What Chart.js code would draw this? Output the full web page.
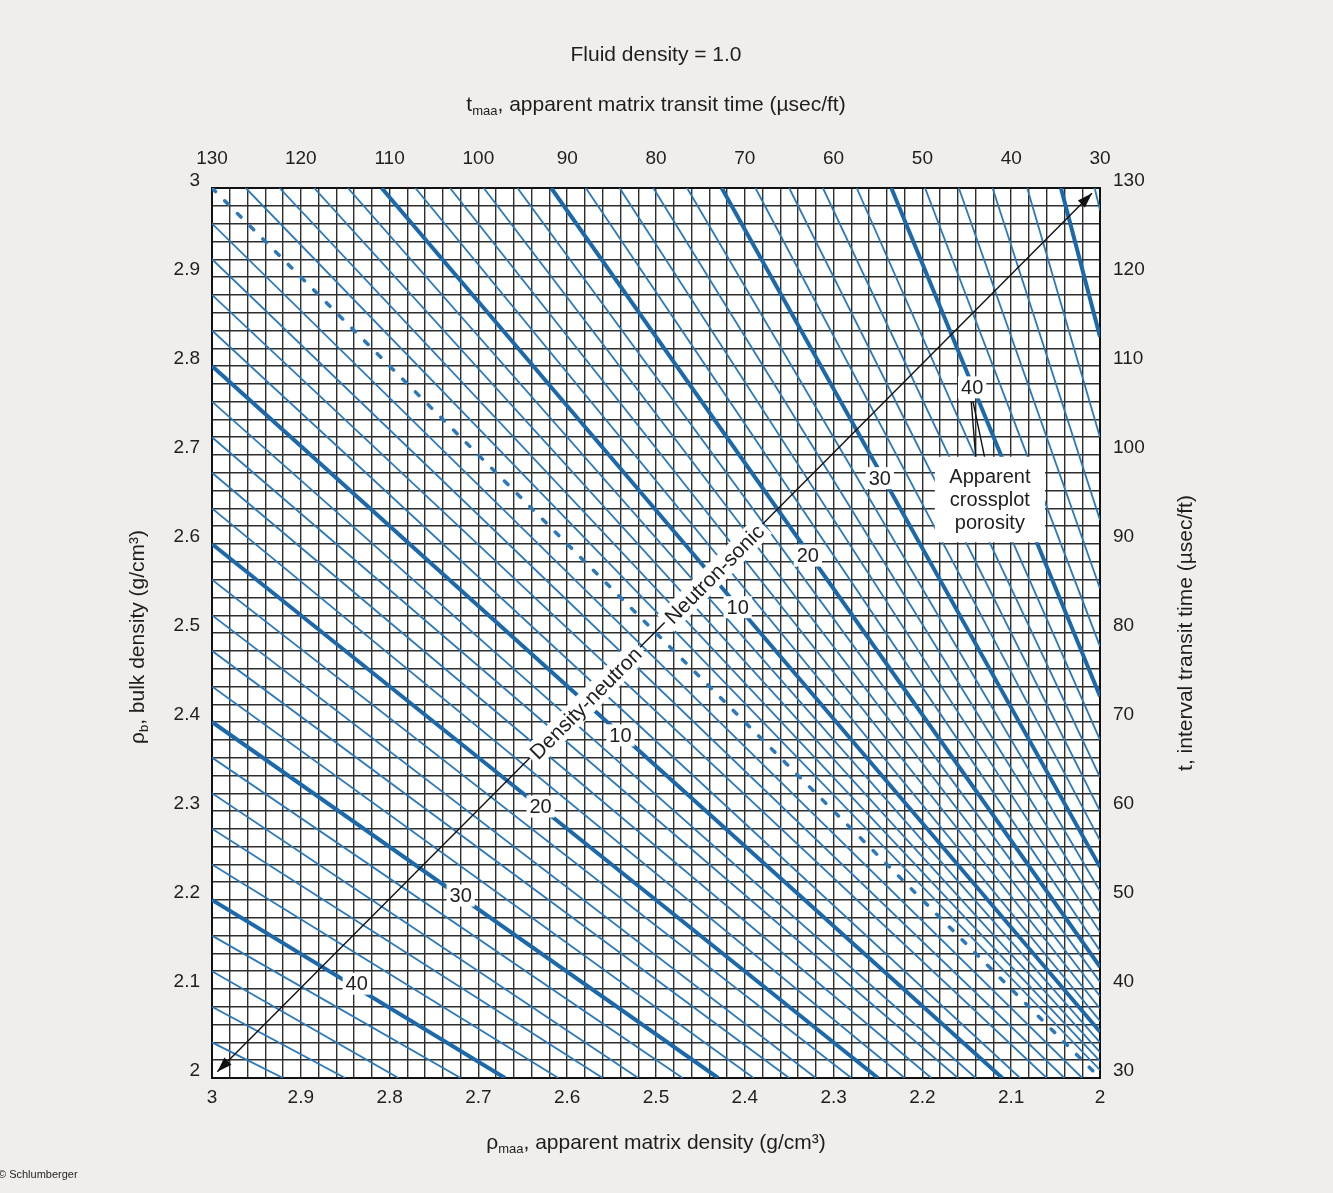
<!DOCTYPE html>
<html>
<head>
<meta charset="utf-8">
<title>Apparent matrix parameters crossplot</title>
<script src="https://cdn.jsdelivr.net/npm/chart.js@4.4.1/dist/chart.umd.min.js"></script>
<style>
  html, body { margin: 0; padding: 0; background: #efeeec; }
  #wrap { width: 1333px; height: 1193px; position: relative; }
</style>
</head>
<body>
<div id="wrap"><canvas id="crossplot" width="1333" height="1193"></canvas></div>
<script>
// tick labels
const rhoTickLabels = [2, 2.1, 2.2, 2.3, 2.4, 2.5, 2.6, 2.7, 2.8, 2.9, 3];
const transitTickLabels = [30, 40, 50, 60, 70, 80, 90, 100, 110, 120, 130];

// density-neutron porosity lines (p.u.):
// rho_b where each line leaves rho_maa = 3, and rho_maa where it reaches rho_b = 2
const dnPorosity = [2, 4, 6, 8, 10, 12, 14, 16, 18, 20, 22, 24, 26, 28, 30, 32, 34, 36, 38, 40, 42, 44, 46, 48];
const dnRhobAtLeft = [2.96, 2.92, 2.88, 2.84, 2.80, 2.76, 2.72, 2.68, 2.64, 2.60, 2.56, 2.52,
  2.48, 2.44, 2.40, 2.36, 2.32, 2.28, 2.24, 2.20, 2.16, 2.12, 2.08, 2.04];
const dnRhomaaAtBottom = [2.02, 2.04, 2.06, 2.09, 2.11, 2.14, 2.16, 2.19, 2.22, 2.25, 2.28, 2.32,
  2.35, 2.39, 2.43, 2.47, 2.52, 2.56, 2.61, 2.67, 2.72, 2.79, 2.85, 2.92];

// neutron-sonic porosity lines (p.u.):
// t_maa where each line leaves t = 130, and t where it reaches t_maa = 30
const nsPorosity = [2, 4, 6, 8, 10, 12, 14, 16, 18, 20, 22, 24, 26, 28, 30, 32, 34, 36, 38, 40, 42, 44, 46, 48, 50, 52];
const nsTmaaAtTop = [126.2, 122.4, 118.5, 114.7, 110.9, 107.1, 103.2, 99.4, 95.6, 91.8, 87.9, 84.1, 80.3,
  76.5, 72.6, 68.8, 65.0, 61.2, 57.4, 53.5, 49.7, 45.9, 42.1, 38.2, 34.4, 30.6];
const nsTAtRight = [30.9, 31.9, 32.9, 34.0, 35.2, 36.4, 37.8, 39.2, 40.8, 42.5, 44.3, 46.4, 48.6,
  51.0, 53.7, 56.7, 60.0, 63.8, 68.0, 72.9, 78.5, 85.0, 92.7, 102.0, 113.3, 127.5];

// zero porosity line and the diagonal arrow
const zeroRhomaa = [3, 2];
const zeroRhob = [3, 2];
const diagRhomaa = [2.994, 2.009];
const diagRhob = [2.007, 2.994];

// porosity labels
const dnLabels = ['10', '20', '30', '40'];
const dnLabelRhomaa = [2.54, 2.63, 2.72, 2.837];
const dnLabelRhob = [2.385, 2.305, 2.205, 2.106];
const nsLabels = ['10', '20', '30', '40'];
const nsLabelTmaa = [70.8, 62.9, 54.8, 44.4];
const nsLabelT = [82.9, 88.7, 97.4, 107.6];

const FONT = '"Liberation Sans", Arial, sans-serif';
const BLUE_THIN = '#2b79bb';
const BLUE_THICK = '#1b69ab';
const INK = '#1e1e1e';

const datasets = [];
dnPorosity.forEach((phi, i) => {
  const heavy = phi % 10 === 0;
  datasets.push({
    data: [{ x: 3, y: dnRhobAtLeft[i] }, { x: dnRhomaaAtBottom[i], y: 2 }],
    xAxisID: 'x', yAxisID: 'y',
    borderColor: heavy ? BLUE_THICK : BLUE_THIN,
    borderWidth: heavy ? 4 : 1.8,
    order: heavy ? 1 : 2
  });
});
nsPorosity.forEach((phi, i) => {
  const heavy = phi % 10 === 0;
  datasets.push({
    data: [{ x: nsTmaaAtTop[i], y: 130 }, { x: 30, y: nsTAtRight[i] }],
    xAxisID: 'x2', yAxisID: 'y2',
    borderColor: heavy ? BLUE_THICK : BLUE_THIN,
    borderWidth: heavy ? 4 : 1.8,
    order: heavy ? 1 : 2
  });
});
datasets.push({
  data: zeroRhomaa.map((v, i) => ({ x: v, y: zeroRhob[i] })),
  xAxisID: 'x', yAxisID: 'y',
  borderColor: BLUE_THIN, borderWidth: 3.5, borderDash: [5, 13], borderCapStyle: 'round',
  order: 1
});
datasets.push({
  data: diagRhomaa.map((v, i) => ({ x: v, y: diagRhob[i] })),
  xAxisID: 'x', yAxisID: 'y',
  borderColor: '#111', borderWidth: 1.4,
  order: 0
});
datasets.forEach(d => { d.showLine = true; d.pointRadius = 0; d.fill = false; });

const gridStyle = { color: '#2e2e2e', lineWidth: 1.4, drawTicks: false };
const borderStyle = { display: true, color: '#111', width: 2 };
const tickFont = { family: FONT, size: 19 };
const rhoLabel = v => rhoTickLabels.some(l => Math.abs(l - v) < 1e-6) ? String(Number(v.toFixed(1))) : '';
const ttLabel = v => transitTickLabels.some(l => Math.abs(l - v) < 1e-6) ? String(Math.round(v)) : '';

function richText(ctx, parts, size) {
  let total = 0;
  const widths = parts.map(([t, k]) => {
    ctx.font = (k ? Math.round(size * 0.62) : size) + 'px ' + FONT;
    const w = ctx.measureText(t).width;
    total += w;
    return w;
  });
  let x = -total / 2;
  ctx.textAlign = 'left';
  ctx.textBaseline = 'middle';
  parts.forEach(([t, k], i) => {
    ctx.font = (k ? Math.round(size * 0.62) : size) + 'px ' + FONT;
    ctx.fillText(t, x, k === 'sub' ? size * 0.32 : 0);
    x += widths[i];
  });
}

function boxedLabel(ctx, text, x, y, size) {
  ctx.font = size + 'px ' + FONT;
  const w = ctx.measureText(text).width;
  ctx.fillStyle = '#fff';
  ctx.fillRect(x - w / 2 - 3, y - size / 2 - 1, w + 6, size + 2);
  ctx.fillStyle = INK;
  ctx.textAlign = 'center';
  ctx.textBaseline = 'middle';
  ctx.fillText(text, x, y + 1);
}

const paperPlugin = {
  id: 'paper',
  beforeDraw(chart) {
    const { ctx, chartArea: a } = chart;
    ctx.save();
    ctx.fillStyle = '#ffffff';
    ctx.fillRect(a.left, a.top, a.right - a.left, a.bottom - a.top);
    ctx.restore();
  }
};

const notesPlugin = {
  id: 'notes',
  afterDraw(chart) {
    const { ctx, chartArea: a, scales } = chart;
    const sx = scales.x, sy = scales.y, sx2 = scales.x2, sy2 = scales.y2;
    const cx = (a.left + a.right) / 2, cy = (a.top + a.bottom) / 2;
    ctx.save();
    ctx.fillStyle = INK;

    // titles
    ctx.save(); ctx.translate(cx, a.top - 133);
    richText(ctx, [['Fluid density = 1.0', '']], 21); ctx.restore();
    ctx.save(); ctx.translate(cx, a.top - 83);
    richText(ctx, [['t', ''], ['maa', 'sub'], [', apparent matrix transit time (µsec/ft)', '']], 21); ctx.restore();
    ctx.save(); ctx.translate(cx, a.bottom + 65);
    richText(ctx, [['ρ', ''], ['maa', 'sub'], [', apparent matrix density (g/cm³)', '']], 21); ctx.restore();
    ctx.save(); ctx.translate(a.left - 74, cy + 4); ctx.rotate(-Math.PI / 2);
    richText(ctx, [['ρ', ''], ['b', 'sub'], [', bulk density (g/cm³)', '']], 21); ctx.restore();
    ctx.save(); ctx.translate(a.right + 86, cy); ctx.rotate(-Math.PI / 2);
    richText(ctx, [['t', ''], [', interval transit time (µsec/ft)', '']], 21); ctx.restore();

    ctx.font = '11px ' + FONT;
    ctx.textAlign = 'left'; ctx.textBaseline = 'middle';
    ctx.fillText('© Schlumberger', -2, 1175);

    // arrow heads on the diagonal
    const p0 = { x: sx.getPixelForValue(diagRhomaa[0]), y: sy.getPixelForValue(diagRhob[0]) };
    const p1 = { x: sx.getPixelForValue(diagRhomaa[1]), y: sy.getPixelForValue(diagRhob[1]) };
    const head = (tip, from) => {
      const ang = Math.atan2(tip.y - from.y, tip.x - from.x);
      ctx.save(); ctx.translate(tip.x, tip.y); ctx.rotate(ang);
      ctx.beginPath(); ctx.moveTo(0, 0); ctx.lineTo(-15, -5); ctx.lineTo(-15, 5); ctx.closePath();
      ctx.fillStyle = '#111'; ctx.fill(); ctx.restore();
    };
    head(p1, p0); head(p0, p1);

    // diagonal captions
    const diagAngle = Math.atan2(p1.y - p0.y, p1.x - p0.x);
    const diagText = (text, rm, rb) => {
      const x = sx.getPixelForValue(rm), y = sy.getPixelForValue(rb);
      ctx.save(); ctx.translate(x, y); ctx.rotate(diagAngle);
      ctx.font = '21px ' + FONT;
      const w = ctx.measureText(text).width;
      ctx.fillStyle = '#fff'; ctx.fillRect(-w / 2 - 4, -12, w + 8, 24);
      ctx.fillStyle = INK; ctx.textAlign = 'center'; ctx.textBaseline = 'middle';
      ctx.fillText(text, 0, 1);
      ctx.restore();
    };
    diagText('Density-neutron', 2.579, 2.421);
    diagText('Neutron-sonic', 2.434, 2.566);

    // porosity labels
    dnLabels.forEach((t, i) => boxedLabel(ctx, t, sx.getPixelForValue(dnLabelRhomaa[i]), sy.getPixelForValue(dnLabelRhob[i]), 20));
    nsLabels.forEach((t, i) => boxedLabel(ctx, t, sx2.getPixelForValue(nsLabelTmaa[i]), sy2.getPixelForValue(nsLabelT[i]), 20));

    // apparent crossplot porosity note
    const bx0 = sx2.getPixelForValue(48.6), bx1 = sx2.getPixelForValue(36.2);
    const by0 = sy2.getPixelForValue(99.8), by1 = sy2.getPixelForValue(90.2);
    ctx.strokeStyle = '#111'; ctx.lineWidth = 1.4;
    ctx.beginPath();
    ctx.moveTo(sx2.getPixelForValue(44.5), sy2.getPixelForValue(106.0));
    ctx.lineTo(sx2.getPixelForValue(44.0), by0);
    ctx.moveTo(sx2.getPixelForValue(44.3), sy2.getPixelForValue(106.0));
    ctx.lineTo(sx2.getPixelForValue(43.0), by0);
    ctx.stroke();
    ctx.fillStyle = '#fff';
    ctx.fillRect(bx0, by0, bx1 - bx0, by1 - by0);
    ctx.fillStyle = INK; ctx.font = '20px ' + FONT;
    ctx.textAlign = 'center'; ctx.textBaseline = 'middle';
    const bxc = (bx0 + bx1) / 2;
    ['Apparent', 'crossplot', 'porosity'].forEach((t, i) => ctx.fillText(t, bxc, by0 + 21 + i * 23));

    ctx.restore();
  }
};

new Chart(document.getElementById('crossplot'), {
  type: 'scatter',
  data: { datasets },
  options: {
    responsive: false,
    animation: false,
    events: [],
    layout: { padding: 0 },
    plugins: { legend: { display: false }, tooltip: { enabled: false }, title: { display: false } },
    scales: {
      x: {
        type: 'linear', position: 'bottom', min: 2, max: 3, reverse: true,
        afterFit: s => { s.height = 115; },
        grid: gridStyle, border: borderStyle,
        ticks: { stepSize: 0.02, autoSkip: false, maxRotation: 0, padding: 8, color: INK, font: tickFont, callback: rhoLabel }
      },
      y: {
        type: 'linear', position: 'left', min: 2, max: 3,
        afterFit: s => { s.width = 212; },
        grid: gridStyle, border: borderStyle,
        ticks: { stepSize: 0.02, autoSkip: false, padding: 12, labelOffset: -7, color: INK, font: tickFont, callback: rhoLabel }
      },
      x2: {
        type: 'linear', position: 'top', min: 30, max: 130, reverse: true,
        afterFit: s => { s.height = 188; },
        grid: { drawOnChartArea: false, drawTicks: false }, border: borderStyle,
        ticks: { stepSize: 10, autoSkip: false, maxRotation: 0, padding: 18, color: INK, font: tickFont, callback: ttLabel }
      },
      y2: {
        type: 'linear', position: 'right', min: 30, max: 130,
        afterFit: s => { s.width = 233; },
        grid: { drawOnChartArea: false, drawTicks: false }, border: borderStyle,
        ticks: { stepSize: 10, autoSkip: false, padding: 13, labelOffset: -7, color: INK, font: tickFont, callback: ttLabel }
      }
    }
  },
  plugins: [paperPlugin, notesPlugin]
});
</script>
</body>
</html>
